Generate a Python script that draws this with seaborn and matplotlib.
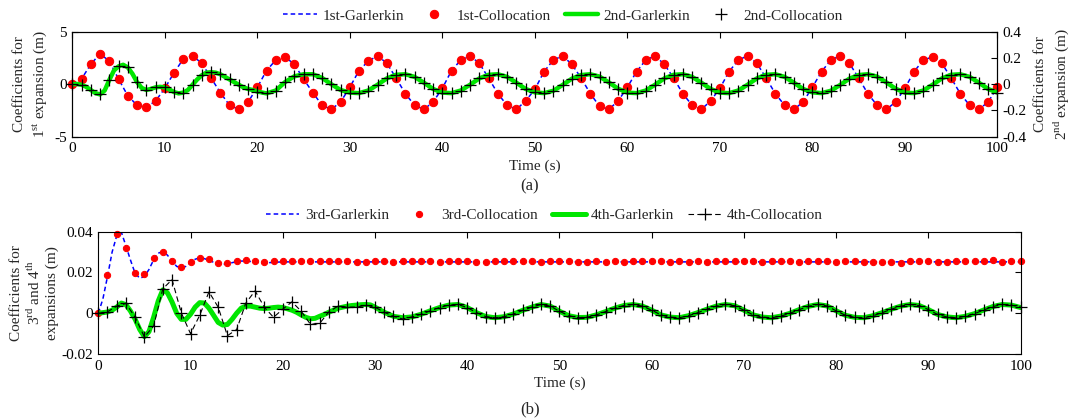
import numpy as np
import pandas as pd
import matplotlib
matplotlib.use("Agg")
import matplotlib.pyplot as plt
import seaborn as sns
from matplotlib.ticker import FormatStrFormatter


# (a) 1st / 2nd expansion coefficients
time_a = np.arange(0, 101)

first_gal = [
    0.0, 0.5, 1.9, 2.9, 2.2, 0.5, -1.1, -2.0, -2.2, -1.6,
    -0.4, 1.1, 2.4, 2.7, 2.0, 0.6, -0.8, -2.0, -2.4, -1.7,
    -0.3, 1.3, 2.3, 2.6, 1.9, 0.5, -0.8, -2.0, -2.4, -1.7,
    -0.3, 1.3, 2.2, 2.7, 2.0, 0.6, -0.9, -2.0, -2.4, -1.7,
    -0.4, 1.3, 2.3, 2.7, 2.0, 0.6, -0.9, -2.0, -2.4, -1.6,
    -0.5, 1.2, 2.3, 2.7, 1.9, 0.6, -0.9, -2.1, -2.4, -1.6,
    -0.3, 1.2, 2.3, 2.7, 1.9, 0.6, -0.9, -2.0, -2.4, -1.6,
    -0.4, 1.2, 2.3, 2.7, 2.0, 0.6, -0.9, -2.0, -2.4, -1.7,
    -0.3, 1.2, 2.3, 2.7, 2.0, 0.6, -0.9, -2.0, -2.4, -1.7,
    -0.4, 1.2, 2.3, 2.6, 2.0, 0.6, -0.9, -2.0, -2.4, -1.7,
    -0.3,
]
# collocation points lie on the Galerkin curve
first_col = first_gal

time_a2 = np.concatenate([np.arange(0, 20, 0.5), np.arange(20, 101)])
second_gal = [
    0.0, 0.002, -0.004, -0.020, -0.044, -0.068, -0.078, -0.048, 0.032, 0.104,
    0.136, 0.148, 0.128, 0.080, 0.016, -0.028, -0.044, -0.036, -0.024, -0.020,
    -0.024, -0.040, -0.060, -0.070, -0.064, -0.044, -0.004, 0.036, 0.068, 0.088,
    0.092, 0.088, 0.076, 0.056, 0.036, 0.016, -0.004, -0.024, -0.036, -0.044,
    -0.056, -0.070, -0.048, 0.016, 0.060, 0.076, 0.076, 0.048, 0.000, -0.044,
    -0.064, -0.068, -0.048, -0.004, 0.044, 0.072, 0.076, 0.056, 0.012, -0.036,
    -0.064, -0.068, -0.048, -0.004, 0.044, 0.072, 0.076, 0.056, 0.012, -0.036,
    -0.062, -0.068, -0.050, -0.006, 0.042, 0.070, 0.076, 0.058, 0.014, -0.034,
    -0.064, -0.068, -0.048, -0.004, 0.044, 0.072, 0.076, 0.056, 0.012, -0.036,
    -0.064, -0.068, -0.048, -0.004, 0.044, 0.072, 0.076, 0.056, 0.012, -0.036,
    -0.062, -0.068, -0.050, -0.006, 0.042, 0.070, 0.076, 0.058, 0.014, -0.034,
    -0.064, -0.068, -0.048, -0.004, 0.044, 0.072, 0.076, 0.056, 0.012, -0.036,
    -0.064,
]
second_col = (
    pd.Series(second_gal, index=time_a2)
    .reindex(time_a.astype(float))
    .to_numpy()
)

# (b) 3rd / 4th expansion coefficients
time_b = np.arange(0, 101)
time_b3 = np.concatenate([np.arange(0, 30, 0.5), np.arange(30, 101, 5)])
time_b4 = np.concatenate([np.arange(0, 30, 0.5), np.arange(30, 101)])

third_gal = [
    0.0, 0.0070, 0.0180, 0.0300, 0.0380, 0.0398, 0.0330, 0.0260, 0.0195, 0.0172,
    0.0180, 0.0215, 0.0262, 0.0295, 0.0302, 0.0285, 0.0255, 0.0230, 0.0222, 0.0230,
    0.0248, 0.0265, 0.0272, 0.0268, 0.0260, 0.0250, 0.0243, 0.0240, 0.0242, 0.0248,
    0.0253, 0.0256, 0.0256, 0.0254, 0.0251, 0.0248, 0.0247, 0.0248, 0.0250, 0.0251,
    0.0252, 0.0252, 0.0252, 0.0252, 0.0252, 0.0252, 0.0252, 0.0252, 0.0252, 0.0252,
    0.0252, 0.0252, 0.0252, 0.0252, 0.0252, 0.0252, 0.0252, 0.0252, 0.0252, 0.0252,
    0.0252, 0.0252, 0.0252, 0.0252, 0.0252, 0.0252, 0.0252, 0.0252, 0.0252, 0.0252,
    0.0252, 0.0252, 0.0252, 0.0252, 0.0252,
]
third_col = [
    0.0, 0.0190, 0.0390, 0.0318, 0.0198, 0.0195, 0.0273, 0.0300, 0.0257, 0.0228,
    0.0249, 0.0273, 0.0265, 0.0247, 0.0247, 0.0257, 0.0262, 0.0257, 0.0249, 0.0255,
    0.0254, 0.0254, 0.0254, 0.0254, 0.0254, 0.0254, 0.0254, 0.0254, 0.0252, 0.0253,
    0.0254, 0.0254, 0.0253, 0.0254, 0.0254, 0.0254, 0.0254, 0.0253, 0.0254, 0.0254,
    0.0254, 0.0252, 0.0249, 0.0254, 0.0254, 0.0254, 0.0254, 0.0254, 0.0250, 0.0254,
    0.0254, 0.0254, 0.0249, 0.0249, 0.0254, 0.0250, 0.0254, 0.0250, 0.0254, 0.0254,
    0.0254, 0.0254, 0.0250, 0.0256, 0.0250, 0.0257, 0.0252, 0.0254, 0.0255, 0.0255,
    0.0254, 0.0255, 0.0251, 0.0257, 0.0254, 0.0254, 0.0251, 0.0254, 0.0257, 0.0254,
    0.0252, 0.0254, 0.0257, 0.0251, 0.0250, 0.0250, 0.0253, 0.0246, 0.0254, 0.0254,
    0.0254, 0.0252, 0.0251, 0.0254, 0.0254, 0.0254, 0.0254, 0.0260, 0.0252, 0.0254,
    0.0254,
]

fourth_gal = [
    0.0000, 0.0003, 0.0006, 0.0015, 0.0030, 0.0050, 0.0042, 0.0010, -0.0030, -0.0080,
    -0.0115, -0.0090, -0.0020, 0.0060, 0.0115, 0.0100, 0.0055, 0.0000, -0.0030, -0.0030,
    -0.0005, 0.0030, 0.0052, 0.0050, 0.0025, -0.0010, -0.0045, -0.0058, -0.0055, -0.0030,
    0.0000, 0.0025, 0.0035, 0.0035, 0.0030, 0.0025, 0.0023, 0.0025, 0.0028, 0.0030,
    0.0028, 0.0022, 0.0015, 0.0005, -0.0008, -0.0020, -0.0027, -0.0025, -0.0015, -0.0006,
    0.0005, 0.0015, 0.0025, 0.0030, 0.0035, 0.0038, 0.0040, 0.0042, 0.0043, 0.0041,
    0.0030, 0.0005, -0.0015, -0.0022, -0.0018, -0.0005, 0.0012, 0.0028, 0.0040, 0.0043,
    0.0028, 0.0003, -0.0016, -0.0022, -0.0017, -0.0004, 0.0014, 0.0030, 0.0043, 0.0035,
    0.0010, -0.0012, -0.0021, -0.0020, -0.0008, 0.0008, 0.0025, 0.0038, 0.0043, 0.0035,
    0.0015, -0.0008, -0.0019, -0.0022, -0.0012, 0.0003, 0.0020, 0.0035, 0.0043, 0.0037,
    0.0015, -0.0008, -0.0019, -0.0022, -0.0014, 0.0000, 0.0018, 0.0034, 0.0043, 0.0036,
    0.0012, -0.0010, -0.0020, -0.0022, -0.0012, 0.0003, 0.0020, 0.0035, 0.0043, 0.0038,
    0.0018, -0.0006, -0.0018, -0.0022, -0.0015, -0.0002, 0.0016, 0.0033, 0.0043, 0.0040,
    0.0028,
]
fourth_col = [
    0.0000, 0.0007, 0.0035, 0.0048, -0.0020, -0.0116, -0.0063, 0.0120, 0.0165, 0.0002,
    -0.0100, -0.0010, 0.0105, 0.0030, -0.0110, -0.0080, 0.0050, 0.0110, 0.0030, -0.0020,
    0.0020, 0.0056, 0.0010, -0.0054, -0.0050, 0.0007, 0.0035, 0.0030, 0.0030, 0.0040,
    0.0030, 0.0005, -0.0015, -0.0028, -0.0018, -0.0005, 0.0012, 0.0028, 0.0040, 0.0043,
    0.0028, 0.0003, -0.0016, -0.0022, -0.0017, -0.0004, 0.0014, 0.0030, 0.0043, 0.0035,
    0.0010, -0.0012, -0.0021, -0.0020, -0.0008, 0.0008, 0.0025, 0.0038, 0.0043, 0.0035,
    0.0015, -0.0008, -0.0019, -0.0022, -0.0012, 0.0003, 0.0020, 0.0035, 0.0043, 0.0037,
    0.0015, -0.0008, -0.0019, -0.0022, -0.0014, 0.0000, 0.0018, 0.0034, 0.0043, 0.0036,
    0.0012, -0.0010, -0.0020, -0.0022, -0.0012, 0.0003, 0.0020, 0.0035, 0.0043, 0.0038,
    0.0018, -0.0006, -0.0018, -0.0022, -0.0015, -0.0002, 0.0016, 0.0033, 0.0043, 0.0040,
    0.0030,
]

BLUE = "#0000ff"
RED = "#ff0000"
GREEN = "#00e600"
BLACK = "#000000"

sns.set_theme(style="white")
plt.rcParams["font.family"] = ["Liberation Serif", "DejaVu Serif"]
plt.rcParams["mathtext.fontset"] = "custom"
plt.rcParams["mathtext.rm"] = "Liberation Serif"
plt.rcParams["axes.unicode_minus"] = False
plt.rcParams["font.size"] = 11
plt.rcParams["axes.edgecolor"] = "black"
plt.rcParams["axes.linewidth"] = 0.8

fig = plt.figure(figsize=(10.74, 4.2), dpi=100)
ax_a = fig.add_axes([0.0673, 0.6745, 0.8613, 0.25])
ax_a2 = ax_a.twinx()
ax_b = fig.add_axes([0.0915, 0.1571, 0.8588, 0.2912])


def style_axis(ax, right=True):
    ax.tick_params(
        direction="in",
        length=4,
        width=0.8,
        top=True,
        right=right,
        labelsize=11,
        colors="black",
        pad=4
    )
    ax.set_facecolor("white")


# PANEL (a)
sns.lineplot(x=time_a, y=first_gal, ax=ax_a, color=BLUE, lw=1.1,
             dashes=(3, 2), label="1st-Garlerkin", legend=False)
sns.lineplot(x=time_a, y=first_col, ax=ax_a, color=RED, linestyle="none",
             marker="o", markersize=6, markeredgecolor=RED,
             label="1st-Collocation", legend=False, clip_on=False)
sns.lineplot(x=time_a2, y=second_gal, ax=ax_a2, color=GREEN, lw=3.2,
             label="2nd-Garlerkin", legend=False)
sns.lineplot(x=time_a, y=second_col, ax=ax_a2, color=BLACK, linestyle="none",
             marker="+", markersize=8, markeredgewidth=0.9,
             markeredgecolor=BLACK,
             label="2nd-Collocation", legend=False, clip_on=False)

ax_a.set_xlim(0, 100)
ax_a.set_ylim(-5, 5)
ax_a.set_yticks([-5, 0, 5])
ax_a.set_xticks(np.arange(0, 101, 10))
ax_a2.set_ylim(-0.4, 0.4)
ax_a2.set_yticks([-0.4, -0.2, 0, 0.2, 0.4])
for ax in (ax_a, ax_a2, ax_b):
    ax.yaxis.set_major_formatter(FormatStrFormatter("%g"))
style_axis(ax_a, right=False)
ax_a2.tick_params(direction="in", length=4, width=0.8, labelsize=11,
                  colors="black", pad=4)
ax_a.set_xlabel("Time (s)", fontsize=11, labelpad=3)
ax_a.set_ylabel("")
ax_a2.set_ylabel("")

h1, l1 = ax_a.get_legend_handles_labels()
h2, l2 = ax_a2.get_legend_handles_labels()
fig.legend(
    h1 + h2, l1 + l2,
    loc="center",
    bbox_to_anchor=(0.524, 0.962),
    ncol=4,
    frameon=False,
    fontsize=11,
    handlelength=2.2,
    handletextpad=0.35,
    columnspacing=0.9
)

# PANEL (b)
sns.lineplot(x=time_b3, y=third_gal, ax=ax_b, color=BLUE, lw=1.1,
             dashes=(3, 2), label="3rd-Garlerkin", legend=False)
sns.lineplot(x=time_b, y=third_col, ax=ax_b, color=RED, linestyle="none",
             marker="o", markersize=4.5, markeredgecolor=RED,
             label="3rd-Collocation", legend=False, clip_on=False)
sns.lineplot(x=time_b4, y=fourth_gal, ax=ax_b, color=GREEN, lw=3.6,
             label="4th-Garlerkin", legend=False)
sns.lineplot(x=time_b, y=fourth_col, ax=ax_b, color=BLACK, lw=0.8,
             dashes=(5, 3), marker="+", markersize=9, markeredgewidth=0.9,
             markeredgecolor=BLACK,
             label="4th-Collocation", legend=False, clip_on=False)

ax_b.set_xlim(0, 100)
ax_b.set_ylim(-0.02, 0.04)
ax_b.set_yticks([-0.02, 0, 0.02, 0.04])
ax_b.set_xticks(np.arange(0, 101, 10))
style_axis(ax_b)
ax_b.set_xlabel("Time (s)", fontsize=11, labelpad=3)
ax_b.set_ylabel("")

hb, lb = ax_b.get_legend_handles_labels()
fig.legend(
    hb, lb,
    loc="center",
    bbox_to_anchor=(0.507, 0.488),
    ncol=4,
    frameon=False,
    fontsize=11,
    handlelength=2.2,
    handletextpad=0.35,
    columnspacing=0.9
)

# axis titles
fig.text(0.029, 0.7995, "Coefficients for\n1$^{\\mathrm{st}}$ expansion (m)",
         rotation=90, ha="center", va="center", fontsize=11, linespacing=1.3)
fig.text(0.9804, 0.7995, "Coefficients for\n2$^{\\mathrm{nd}}$ expansion (m)",
         rotation=90, ha="center", va="center", fontsize=11, linespacing=1.3)
fig.text(0.032, 0.3026,
         "Coefficients for\n3$^{\\mathrm{rd}}$ and 4$^{\\mathrm{th}}$\nexpansions (m)",
         rotation=90, ha="center", va="center", fontsize=11, linespacing=1.2)

fig.text(0.4935, 0.557, "(a)", ha="center", va="center", fontsize=12)
fig.text(0.4935, 0.026, "(b)", ha="center", va="center", fontsize=12)

plt.savefig("out.png", dpi=100)
